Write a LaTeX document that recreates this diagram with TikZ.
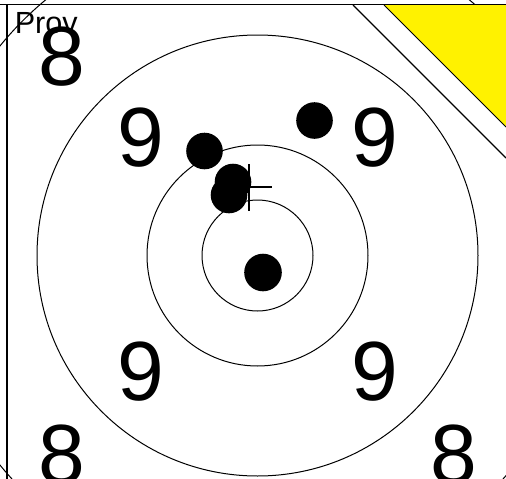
\documentclass[tikz,border=0pt]{standalone}
\usepackage{fontspec}
\setmainfont{Liberation Sans}
\begin{document}
\begin{tikzpicture}[x=1pt,y=-1pt,
  ring/.style={draw=black,line width=1pt},
  shot/.style={fill=black},
  bignum/.style={font=\fontsize{84}{84}\selectfont,inner sep=0pt,anchor=base},
  frameline/.style={draw=black,line width=1.6pt},
  crossline/.style={draw=black,line width=2.2pt}]
\useasboundingbox (0,0) rectangle (506,479);
\begin{scope}
\clip (0,0) rectangle (506,479);
\coordinate (c) at (257.5,255.5);
% rings
\draw[ring] (c) circle[radius=55.5];
\draw[ring] (c) circle[radius=110.5];
\draw[ring] (c) circle[radius=220.5];
\draw[ring] (c) circle[radius=332];
% ring numbers
\node[bignum] (n8tl) at (62,85) {8};
\node[bignum] (n8bl) at (62,483) {8};
\node[bignum] (n8br) at (454,483) {8};
\node[bignum] (n9tl) at (141,166) {9};
\node[bignum] (n9tr) at (375,166) {9};
\node[bignum] (n9bl) at (141,400) {9};
\node[bignum] (n9br) at (375,400) {9};
% label
\node[font=\fontsize{30.6}{30.6}\selectfont,inner sep=0pt,anchor=base west] (prov) at (14.6,33) {Prov};
% shots
\fill[shot] (204.5,151) circle[radius=18.3];
\fill[shot] (314.5,120.5) circle[radius=18.3];
\fill[shot] (233,182) circle[radius=18.3];
\fill[shot] (229,195) circle[radius=18.3];
\fill[shot] (263,272.5) circle[radius=18.8];
% aim cross
\coordinate (x) at (249,187);
\draw[crossline] ([yshift=-23.5pt]x) -- ([yshift=23.5pt]x);
\draw[crossline] ([xshift=-23pt]x) -- ([xshift=23pt]x);
% corner marking
\draw[black,line width=1.3pt] (353,5) -- (506,158);
\fill[yellow] (384,5) -- (506,5) -- (506,127) -- cycle;
\draw[black,line width=1pt] (384,5) -- (506,127);
% frame
\draw[frameline] (0,4.5) -- (506,4.5);
\draw[frameline] (7,4.5) -- (7,479);
\end{scope}
\end{tikzpicture}
\end{document}
